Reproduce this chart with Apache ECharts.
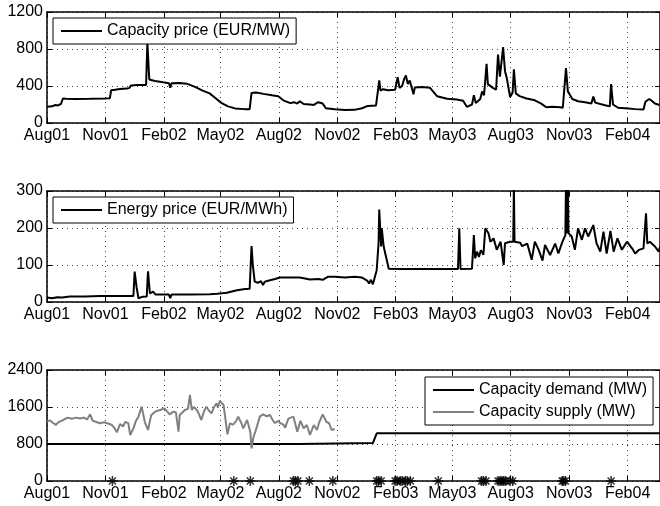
<!DOCTYPE html>
<html>
<head>
<meta charset="utf-8">
<script src="https://cdn.jsdelivr.net/npm/echarts@6/dist/echarts.min.js"></script>
<style>
  html, body { margin: 0; padding: 0; background: #fff; }
  #chart { width: 660px; height: 506px; }
</style>
</head>
<body>
<div id="chart"></div>
<script>
// x axis ticks
const tickDates = ['2001-08-01', '2001-11-01', '2002-02-01', '2002-05-01', '2002-08-01', '2002-11-01',
  '2003-02-01', '2003-05-01', '2003-08-01', '2003-11-01', '2004-02-01'];
const tickLabels = ['Aug01', 'Nov01', 'Feb02', 'May02', 'Aug02', 'Nov02', 'Feb03', 'May03', 'Aug03', 'Nov03', 'Feb04'];
const startDate = '2001-08-01';
const endDate = '2004-03-23';

// panel 1
const capacityPrice = [
  ['2001-08-01', 175], ['2001-08-09', 180], ['2001-08-14', 195], ['2001-08-18', 190], ['2001-08-23', 205],
  ['2001-08-26', 265], ['2001-08-31', 262], ['2001-09-14', 260], ['2001-10-08', 262], ['2001-10-31', 265],
  ['2001-11-08', 268], ['2001-11-10', 355], ['2001-11-16', 360], ['2001-11-24', 368], ['2001-12-05', 372],
  ['2001-12-09', 380], ['2001-12-11', 405], ['2001-12-21', 410], ['2002-01-04', 412], ['2002-01-05', 420],
  ['2002-01-06', 865], ['2002-01-09', 470], ['2002-01-18', 455], ['2002-01-31', 440], ['2002-02-09', 430],
  ['2002-02-11', 380], ['2002-02-13', 430], ['2002-02-26', 432], ['2002-03-09', 425], ['2002-03-22', 390],
  ['2002-04-03', 350], ['2002-04-14', 320], ['2002-04-23', 270], ['2002-05-03', 215], ['2002-05-13', 180],
  ['2002-05-24', 158], ['2002-06-08', 150], ['2002-06-16', 150], ['2002-06-19', 325], ['2002-06-26', 330],
  ['2002-07-08', 315], ['2002-07-21', 300], ['2002-07-31', 290], ['2002-08-08', 245], ['2002-08-19', 215],
  ['2002-08-25', 225], ['2002-08-30', 210], ['2002-09-03', 235], ['2002-09-09', 205], ['2002-09-19', 200],
  ['2002-09-25', 195], ['2002-10-02', 225], ['2002-10-05', 240], ['2002-10-09', 210], ['2002-10-14', 160],
  ['2002-10-28', 148], ['2002-11-13', 140], ['2002-11-28', 142], ['2002-12-10', 160], ['2002-12-19', 185],
  ['2003-01-01', 190], ['2003-01-04', 200], ['2003-01-06', 460], ['2003-01-08', 350], ['2003-01-12', 365],
  ['2003-01-20', 355], ['2003-01-31', 360], ['2003-02-04', 495], ['2003-02-07', 380], ['2003-02-11', 400],
  ['2003-02-14', 470], ['2003-02-17', 515], ['2003-02-20', 420], ['2003-02-23', 460], ['2003-03-01', 310],
  ['2003-03-03', 385], ['2003-03-14', 390], ['2003-03-27', 380], ['2003-04-01', 340], ['2003-04-07', 290],
  ['2003-04-23', 262], ['2003-05-08', 255], ['2003-05-18', 240], ['2003-05-24', 175], ['2003-06-01', 200],
  ['2003-06-04', 300], ['2003-06-07', 215], ['2003-06-14', 260], ['2003-06-17', 340], ['2003-06-20', 300],
  ['2003-06-24', 640], ['2003-06-26', 420], ['2003-07-04', 380], ['2003-07-09', 360], ['2003-07-12', 740],
  ['2003-07-15', 500], ['2003-07-20', 820], ['2003-07-23', 560], ['2003-07-26', 480], ['2003-07-31', 280],
  ['2003-08-04', 330], ['2003-08-06', 580], ['2003-08-09', 320], ['2003-08-15', 290], ['2003-08-26', 265],
  ['2003-09-08', 245], ['2003-09-18', 210], ['2003-09-26', 170], ['2003-10-05', 175], ['2003-10-18', 170],
  ['2003-10-22', 165], ['2003-10-27', 595], ['2003-10-30', 340], ['2003-11-06', 260], ['2003-11-15', 235],
  ['2003-11-26', 225], ['2003-12-06', 210], ['2003-12-09', 285], ['2003-12-12', 220], ['2003-12-20', 205],
  ['2003-12-29', 190], ['2004-01-04', 180], ['2004-01-06', 420], ['2004-01-09', 200], ['2004-01-17', 165],
  ['2004-01-28', 160], ['2004-02-13', 150], ['2004-02-26', 145], ['2004-02-29', 230], ['2004-03-06', 260],
  ['2004-03-10', 240], ['2004-03-15', 210], ['2004-03-22', 195]
];

// panel 2
const energyPrice = [
  ['2001-08-01', 12], ['2001-08-09', 10], ['2001-08-17', 13], ['2001-08-25', 12], ['2001-09-06', 15],
  ['2001-09-30', 15], ['2001-10-24', 16], ['2001-11-16', 16], ['2001-12-02', 16], ['2001-12-15', 16],
  ['2001-12-17', 82], ['2001-12-20', 40], ['2001-12-23', 10], ['2001-12-29', 14], ['2002-01-05', 15],
  ['2002-01-07', 83], ['2002-01-10', 23], ['2002-01-13', 18], ['2002-01-15', 28], ['2002-01-19', 20],
  ['2002-02-02', 20], ['2002-02-09', 20], ['2002-02-11', 10], ['2002-02-13', 20], ['2002-03-14', 20],
  ['2002-04-14', 21], ['2002-04-26', 22], ['2002-05-11', 25], ['2002-05-27', 32], ['2002-06-09', 35],
  ['2002-06-16', 36], ['2002-06-19', 151], ['2002-06-21', 100], ['2002-06-24', 55], ['2002-06-29', 52],
  ['2002-07-04', 56], ['2002-07-07', 46], ['2002-07-10', 55], ['2002-07-13', 50], ['2002-07-18', 59],
  ['2002-07-26', 62], ['2002-08-03', 66], ['2002-08-19', 66], ['2002-09-03', 66], ['2002-09-19', 61],
  ['2002-10-02', 62], ['2002-10-09', 60], ['2002-10-17', 68], ['2002-10-28', 68], ['2002-11-13', 66],
  ['2002-11-28', 68], ['2002-12-10', 66], ['2002-12-18', 58], ['2002-12-21', 50], ['2002-12-24', 60],
  ['2002-12-27', 48], ['2003-01-02', 86], ['2003-01-05', 160], ['2003-01-06', 250], ['2003-01-09', 150],
  ['2003-01-10', 199], ['2003-01-13', 150], ['2003-01-16', 148], ['2003-01-21', 90], ['2003-02-08', 89],
  ['2003-03-12', 89], ['2003-04-12', 89], ['2003-05-10', 89], ['2003-05-12', 199], ['2003-05-14', 89],
  ['2003-06-01', 90], ['2003-06-04', 181], ['2003-06-06', 118], ['2003-06-09', 136], ['2003-06-12', 122],
  ['2003-06-15', 140], ['2003-06-19', 128], ['2003-06-22', 199], ['2003-06-27', 186], ['2003-06-30', 163],
  ['2003-07-05', 172], ['2003-07-10', 141], ['2003-07-16', 163], ['2003-07-21', 100], ['2003-07-23', 159],
  ['2003-07-31', 163], ['2003-08-05', 163], ['2003-08-06', 320], ['2003-08-07', 163], ['2003-08-16', 160],
  ['2003-08-19', 151], ['2003-08-27', 158], ['2003-09-03', 114], ['2003-09-08', 163], ['2003-09-14', 141],
  ['2003-09-20', 112], ['2003-09-24', 154], ['2003-10-02', 127], ['2003-10-10', 158], ['2003-10-15', 131],
  ['2003-10-21', 161], ['2003-10-26', 181], ['2003-10-27', 320], ['2003-10-29', 185], ['2003-10-30', 320],
  ['2003-10-31', 186], ['2003-11-05', 177], ['2003-11-10', 141], ['2003-11-15', 199], ['2003-11-21', 168],
  ['2003-11-26', 199], ['2003-12-01', 177], ['2003-12-09', 208], ['2003-12-14', 159], ['2003-12-20', 136],
  ['2003-12-25', 190], ['2003-12-30', 131], ['2004-01-05', 192], ['2004-01-10', 136], ['2004-01-16', 172],
  ['2004-01-23', 141], ['2004-01-31', 163], ['2004-02-08', 145], ['2004-02-13', 131], ['2004-02-19', 141],
  ['2004-02-26', 145], ['2004-03-01', 240], ['2004-03-03', 158], ['2004-03-07', 163], ['2004-03-15', 150],
  ['2004-03-21', 136], ['2004-03-23', 150]
];

// panel 3
const capacityDemand = [
  ['2001-08-01', 800], ['2002-09-01', 800], ['2002-09-02', 820], ['2002-12-27', 820],
  ['2003-01-02', 1030], ['2004-03-23', 1030]
];
const capacitySupply = [
  ['2001-08-01', 1290], ['2001-08-06', 1310], ['2001-08-10', 1260], ['2001-08-15', 1215], ['2001-08-20', 1280],
  ['2001-08-24', 1300], ['2001-08-29', 1340], ['2001-09-03', 1370], ['2001-09-09', 1345], ['2001-09-16', 1370],
  ['2001-09-22', 1350], ['2001-09-28', 1370], ['2001-10-03', 1330], ['2001-10-08', 1440], ['2001-10-12', 1300],
  ['2001-10-17', 1280], ['2001-10-23', 1250], ['2001-10-30', 1270], ['2001-11-04', 1250], ['2001-11-11', 1211],
  ['2001-11-15', 1150], ['2001-11-19', 1052], ['2001-11-24', 1230], ['2001-11-29', 1180], ['2001-12-02', 1280],
  ['2001-12-07', 1250], ['2001-12-10', 995], ['2001-12-15', 1139], ['2001-12-19', 1300], ['2001-12-23', 1391],
  ['2001-12-28', 1607], ['2002-01-02', 1275], ['2002-01-07', 1103], ['2002-01-12', 1420], ['2002-01-18', 1499],
  ['2002-01-26', 1535], ['2002-02-02', 1571], ['2002-02-10', 1441], ['2002-02-16', 1500], ['2002-02-20', 1480],
  ['2002-02-24', 1067], ['2002-02-26', 1427], ['2002-03-06', 1535], ['2002-03-11', 1560], ['2002-03-14', 1860],
  ['2002-03-17', 1535], ['2002-03-20', 1600], ['2002-03-25', 1535], ['2002-03-28', 1450], ['2002-04-01', 1319],
  ['2002-04-05', 1500], ['2002-04-09', 1607], ['2002-04-13', 1520], ['2002-04-17', 1463], ['2002-04-21', 1600],
  ['2002-04-25', 1679], ['2002-04-27', 1590], ['2002-04-30', 1730], ['2002-05-06', 1643], ['2002-05-09', 1620],
  ['2002-05-12', 1009], ['2002-05-16', 1247], ['2002-05-21', 1220], ['2002-05-26', 1300], ['2002-05-29', 1391],
  ['2002-06-03', 1250], ['2002-06-06', 1139], ['2002-06-12', 1320], ['2002-06-17', 1067], ['2002-06-19', 706],
  ['2002-06-22', 950], ['2002-06-25', 1067], ['2002-06-29', 1250], ['2002-07-02', 1391], ['2002-07-07', 1441],
  ['2002-07-13', 1400], ['2002-07-18', 1427], ['2002-07-23', 1300], ['2002-07-26', 1254], ['2002-07-31', 1300],
  ['2002-08-03', 1254], ['2002-08-08', 1220], ['2002-08-11', 1153], ['2002-08-16', 1350], ['2002-08-19', 1319],
  ['2002-08-24', 1391], ['2002-08-30', 1067], ['2002-09-04', 1300], ['2002-09-09', 1139], ['2002-09-14', 1211],
  ['2002-09-19', 995], ['2002-09-25', 1211], ['2002-09-30', 1103], ['2002-10-03', 1250], ['2002-10-09', 1441],
  ['2002-10-15', 1275], ['2002-10-19', 1250], ['2002-10-23', 1103], ['2002-10-28', 1124]
];
const eventDates = [
  '2001-11-12', '2002-05-22', '2002-06-17', '2002-08-24', '2002-08-27', '2002-08-31', '2002-09-18',
  '2002-10-25', '2003-01-02', '2003-01-05', '2003-01-09', '2003-01-31', '2003-02-03', '2003-02-08',
  '2003-02-11', '2003-02-16', '2003-02-19', '2003-02-24', '2003-04-09', '2003-06-16', '2003-06-19',
  '2003-06-23', '2003-07-12', '2003-07-15', '2003-07-18', '2003-07-21', '2003-07-24', '2003-07-31',
  '2003-08-04', '2003-10-21', '2003-10-23', '2003-10-26', '2004-01-06'
];

function toTime(s) {
  const p = s.split('-').map(Number);
  return Date.UTC(p[0], p[1] - 1, p[2]);
}
function asPoints(rows) {
  return rows.map(function (r) { return [toTime(r[0]), r[1]]; });
}
const tickTimes = tickDates.map(toTime);
const FONT = 'Liberation Sans, Arial, Helvetica, sans-serif';

const grids = [
  {left: 47, right: 0, top: 12, height: 111},
  {left: 47, right: 0, top: 191, height: 111},
  {left: 47, right: 0, top: 370, height: 111}
];
const yRanges = [[0, 1200, 400], [0, 300, 100], [0, 2400, 800]];

const xAxes = [];
const yAxes = [];
grids.forEach(function (g, i) {
  [false, true].forEach(function (top) {
    xAxes.push({
      type: 'value',
      gridIndex: i,
      position: top ? 'top' : 'bottom',
      min: toTime(startDate),
      max: toTime(endDate),
      axisLine: {show: true, onZero: false, lineStyle: {color: '#000', width: 1.5}},
      axisTick: {show: true, inside: true, length: 5, customValues: tickTimes, lineStyle: {color: '#000', width: 1}},
      axisLabel: {
        show: !top,
        customValues: tickTimes,
        hideOverlap: false,
        margin: 5,
        color: '#000',
        fontSize: 16,
        fontFamily: FONT,
        formatter: function (v) {
          const k = tickTimes.indexOf(v);
          return k >= 0 ? tickLabels[k] : '';
        }
      },
      splitLine: {show: !top, lineStyle: {color: '#444', type: [1, 4], width: 1}}
    });
    yAxes.push({
      type: 'value',
      gridIndex: i,
      position: top ? 'right' : 'left',
      min: yRanges[i][0],
      max: yRanges[i][1],
      interval: yRanges[i][2],
      axisLine: {show: true, onZero: false, lineStyle: {color: '#000', width: 1.5}},
      axisTick: {show: true, inside: true, length: 5, lineStyle: {color: '#000', width: 1}},
      axisLabel: {
        show: !top, margin: 4, color: '#000', fontSize: 16, fontFamily: FONT,
        formatter: function (v) { return String(v); }
      },
      splitLine: {show: !top, lineStyle: {color: '#444', type: [1, 4], width: 1}}
    });
  });
});

function legendBox(names, left, top) {
  return {
    data: names,
    orient: 'vertical',
    left: left,
    top: top,
    icon: 'rect',
    itemWidth: 41,
    itemHeight: 2,
    itemGap: 6,
    padding: [5, 6, 5, 8],
    borderColor: '#000',
    borderWidth: 1,
    borderRadius: 0,
    backgroundColor: '#fff',
    textStyle: {color: '#000', fontSize: 16, fontFamily: FONT, lineHeight: 14}
  };
}

const asterisk = 'path://M5,0L5,10M0,5L10,5M1.5,1.5L8.5,8.5M1.5,8.5L8.5,1.5';

const option = {
  animation: false,
  backgroundColor: '#fff',
  grid: grids,
  xAxis: xAxes,
  yAxis: yAxes,
  legend: [
    legendBox(['Capacity price (EUR/MW)'], 53, 18),
    legendBox(['Energy price (EUR/MWh)'], 53, 197),
    legendBox(['Capacity demand (MW)', 'Capacity supply (MW)'], 425, 377)
  ],
  series: [
    {
      name: 'Capacity price (EUR/MW)', type: 'line', xAxisIndex: 0, yAxisIndex: 0,
      symbol: 'none', data: asPoints(capacityPrice), lineStyle: {color: '#000', width: 2}, itemStyle: {color: '#000'}
    },
    {
      name: 'Energy price (EUR/MWh)', type: 'line', xAxisIndex: 2, yAxisIndex: 2,
      symbol: 'none', data: asPoints(energyPrice), lineStyle: {color: '#000', width: 2}, itemStyle: {color: '#000'}
    },
    {
      name: 'Capacity demand (MW)', type: 'line', xAxisIndex: 4, yAxisIndex: 4,
      symbol: 'none', data: asPoints(capacityDemand), lineStyle: {color: '#000', width: 2}, itemStyle: {color: '#000'}
    },
    {
      name: 'Capacity supply (MW)', type: 'line', xAxisIndex: 4, yAxisIndex: 4,
      symbol: 'none', data: asPoints(capacitySupply), lineStyle: {color: '#808080', width: 2}, itemStyle: {color: '#808080'}
    },
    {
      name: 'events', type: 'scatter', xAxisIndex: 4, yAxisIndex: 4, clip: false, z: 5,
      symbol: asterisk, symbolSize: 10,
      data: eventDates.map(function (d) { return [toTime(d), 0]; }),
      itemStyle: {color: 'none', borderColor: '#000', borderWidth: 1.5}
    }
  ]
};

const chart = echarts.init(document.getElementById('chart'), null, {renderer: 'canvas'});
chart.setOption(option);
</script>
</body>
</html>
